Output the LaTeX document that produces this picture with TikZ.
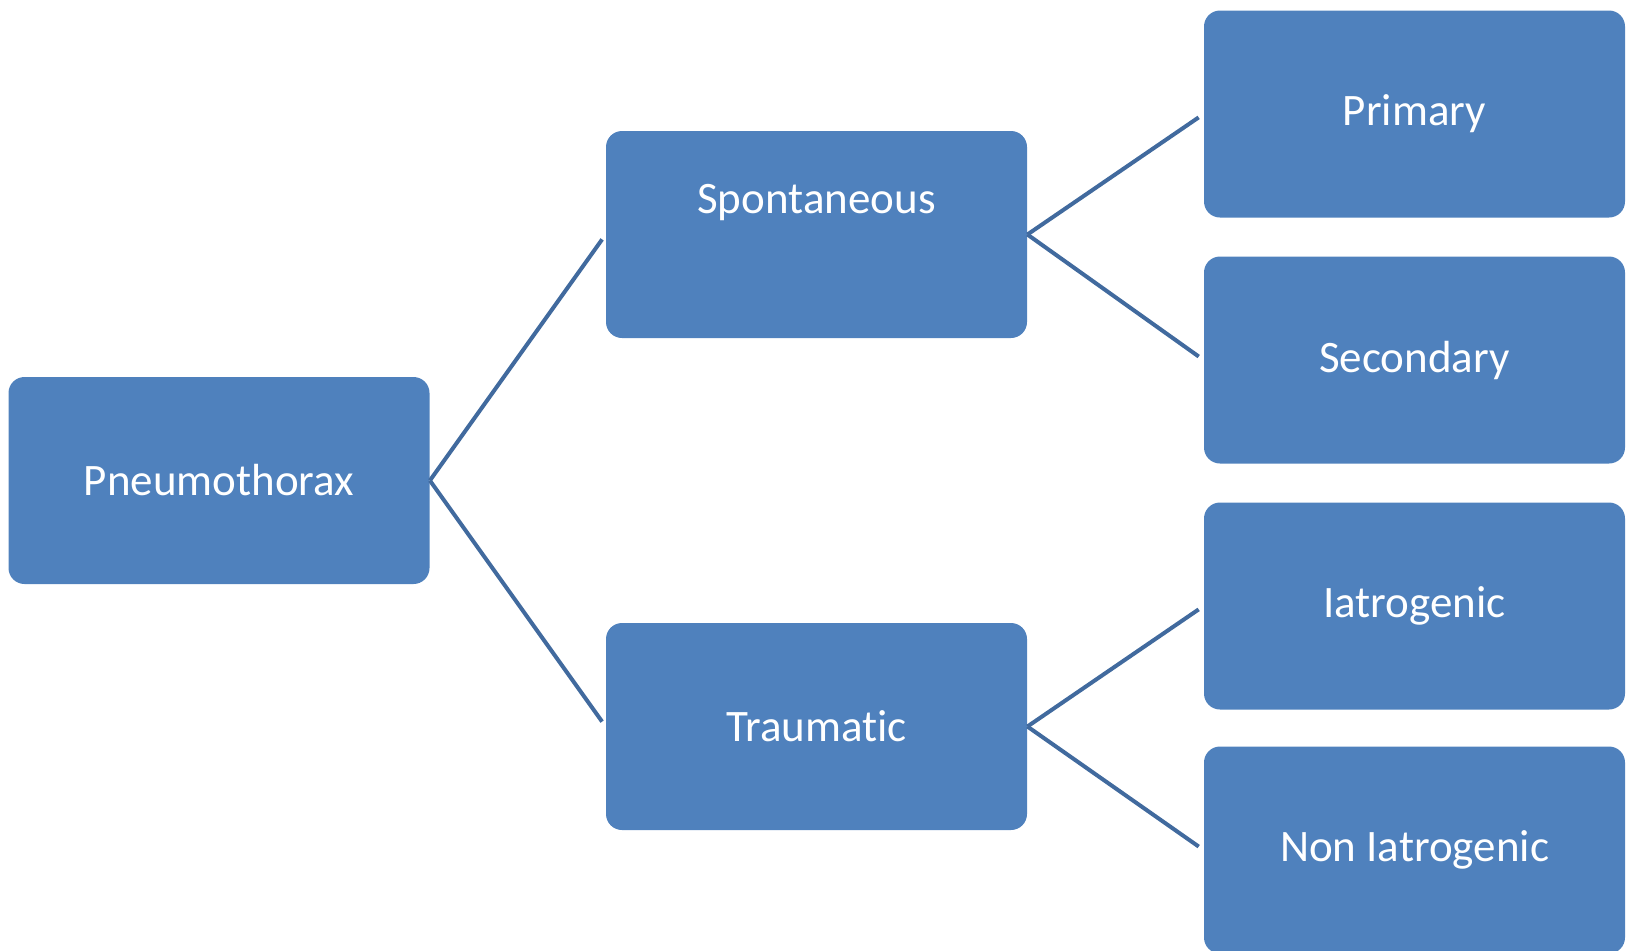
\documentclass[tikz,border=0pt]{standalone}
\usepackage{fontspec}
\setmainfont[Ligatures=NoCommon]{Carlito}
\definecolor{dobozkek}{RGB}{79,129,189}
\definecolor{vonalkek}{RGB}{65,106,158}

\begin{document}
\begin{tikzpicture}[x=0.5pt,y=-0.5pt,
category/.style={rectangle,minimum width=210.5pt,minimum height=103.5pt,inner sep=0pt,rounded corners=8pt,fill=dobozkek,text=white,font=\fontsize{22.5}{27}\selectfont}]
\useasboundingbox (0,0) rectangle (1627,950);
\node[category](pneumo) at (219,480.5){Pneumothorax};
\node[category, text depth=36pt](spont) at (816.5,234.5){Spontaneous};
\node[category](traum) at (816.5,726.5){Traumatic};
\node[category](primary) at (1414.5,114){Primary};
\node[category](secondary) at (1414.5,360){Secondary};
\node[category](iatro) at (1414.5,606){Iatrogenic};
\node[category](noniatro) at (1414.5,850){Non Iatrogenic};
\begin{scope}[draw=vonalkek, line width=2pt, shorten >=3pt]
 \draw (pneumo.east)--(spont.west);
 \draw (pneumo.east)--(traum.west);
 \draw (spont.east)--(primary.west);
 \draw (spont.east)--(secondary.west);
 \draw (traum.east)--(iatro.west);
 \draw (traum.east)--(noniatro.west);
\end{scope}
\end{tikzpicture}
\end{document}
